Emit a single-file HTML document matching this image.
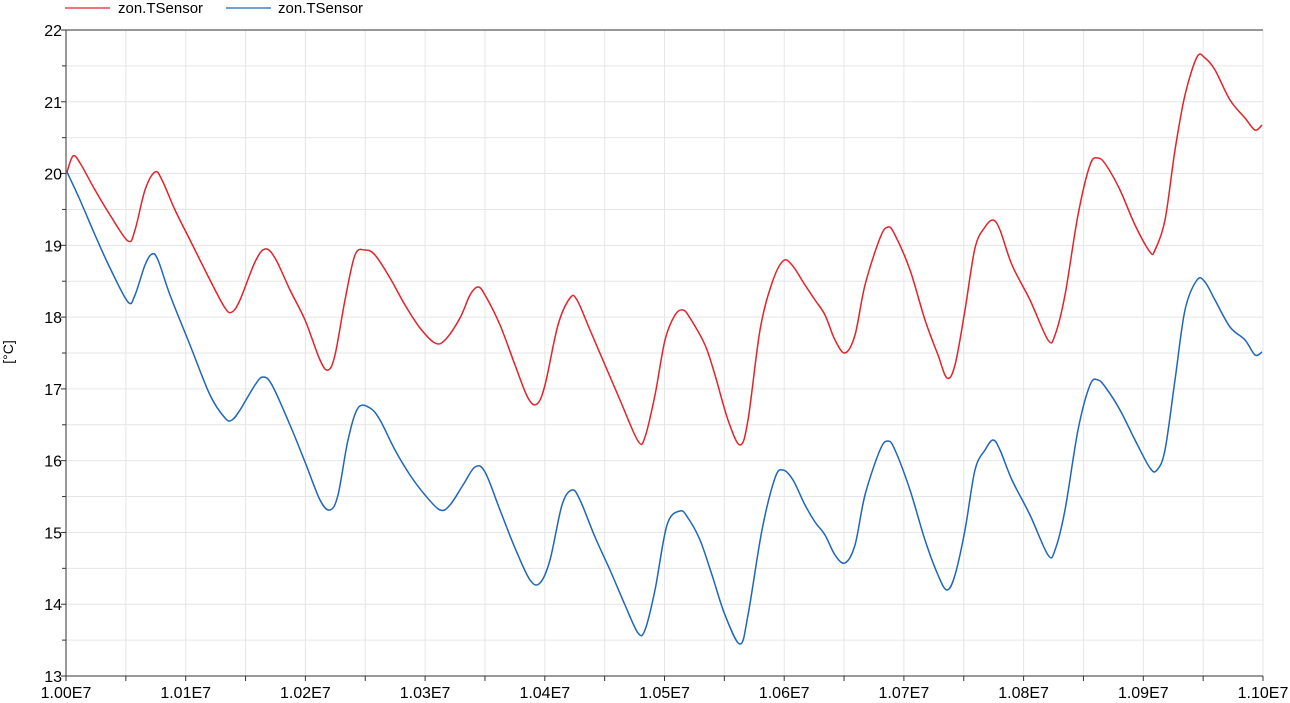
<!DOCTYPE html>
<html><head><meta charset="utf-8"><style>
html,body{margin:0;padding:0;background:#fff;}
svg{display:block;font-family:"Liberation Sans",Arial,sans-serif;}
</style></head><body>
<svg id="s" width="1290" height="703" viewBox="0 0 1290 703" xmlns="http://www.w3.org/2000/svg">
<g id="grid" stroke="#e6e6e6" stroke-width="1"></g>
<g id="axes" stroke="#333" stroke-width="1" fill="none"></g>
<g id="labels" font-size="16" fill="#000"></g>
<line x1="65" y1="8" x2="110" y2="8" stroke="#e3222a" stroke-width="1.2"/>
<text x="118" y="13" font-size="15">zon.TSensor</text>
<line x1="226" y1="8" x2="271" y2="8" stroke="#1f66b8" stroke-width="1.2"/>
<text x="278" y="13" font-size="15">zon.TSensor</text>
<text transform="translate(13,352) rotate(-90)" text-anchor="middle" font-size="14">[°C]</text>
<path id="red" fill="none" stroke="#e3222a" stroke-width="1.5"/>
<path id="blue" fill="none" stroke="#1f66b8" stroke-width="1.5"/>
</svg>
<script>
var L=66,R=1263,T=30,B=676,NS="http://www.w3.org/2000/svg";
function el(p,n,a){var e=document.createElementNS(NS,n);for(var k in a)e.setAttribute(k,a[k]);document.getElementById(p).appendChild(e);return e;}
for(var i=0;i<=18;i++){var y=T+(B-T)*i/18;el("grid","line",{x1:L,x2:R,y1:y,y2:y});
 el("axes","line",{x1:L-(i%2?4:5),x2:L,y1:y,y2:y});
 if(i%2==0){var t=el("labels","text",{x:L-4,y:y+6,"text-anchor":"end"});t.textContent=22-i/2;}}
for(var i=0;i<=20;i++){var x=L+(R-L)*i/20;el("grid","line",{x1:x,x2:x,y1:T,y2:B});
 el("axes","line",{x1:x,x2:x,y1:B,y2:B+5});
 if(i%2==0){var t=el("labels","text",{x:x,y:B+22,"text-anchor":"middle"});t.textContent=(1+i/200).toFixed(2)+"E7";}}
el("axes","line",{x1:L,x2:R,y1:T,y2:T});el("axes","line",{x1:L,x2:L,y1:T,y2:B});el("axes","line",{x1:L,x2:R,y1:B,y2:B});
function path(p){var d="M"+p[0][0]+","+p[0][1];for(var i=0;i<p.length-1;i++){var a=p[i-1]||p[i],b=p[i],c=p[i+1],e=p[i+2]||c;
d+=" C"+(b[0]+(c[0]-a[0])/6)+","+(b[1]+(c[1]-a[1])/6)+" "+(c[0]-(e[0]-b[0])/6)+","+(c[1]-(e[1]-b[1])/6)+" "+c[0]+","+c[1];}return d;}
var red=[[67,172],[73,156],[80,163],[95,190],[110,215],[128,241],[135,230],[145,190],[155,172],[162,180],[175,210],[190,240],[210,280],[225,308],[232,312],[240,300],[255,262],[265,249],[275,258],[290,290],[305,320],[320,360],[328,370],[335,355],[345,300],[355,255],[365,250],[375,255],[390,278],[405,305],[420,328],[435,343],[445,340],[460,318],[470,295],[478,287],[485,295],[500,325],[515,365],[528,398],[537,404],[545,385],[558,325],[570,298],[577,300],[590,330],[605,365],[620,400],[638,441],[645,437],[655,395],[665,340],[675,315],[683,310],[690,318],[705,345],[715,375],[728,420],[740,445],[748,420],[760,330],[772,283],[783,261],[792,265],[805,285],[815,300],[825,315],[835,340],[845,353],[855,335],[865,285],[880,238],[888,227],[895,235],[910,270],[925,320],[938,355],[947,378],[955,365],[965,310],[975,248],[985,227],[993,220],[1000,230],[1012,265],[1030,300],[1048,340],[1055,335],[1065,295],[1078,215],[1090,165],[1098,158],[1106,165],[1120,190],[1135,225],[1150,252],[1155,250],[1165,220],[1175,150],[1185,95],[1197,57],[1205,58],[1215,70],[1230,100],[1245,118],[1255,130],[1262,125]];
var blue=[[67,172],[80,200],[95,235],[110,268],[128,302],[135,295],[145,265],[152,254],[158,260],[170,295],[190,345],[210,395],[225,418],[232,420],[240,410],[255,385],[263,377],[272,385],[290,425],[305,462],[320,500],[330,510],[338,495],[348,440],[358,408],[370,408],[380,420],[395,450],[410,475],[425,495],[440,510],[450,505],[463,485],[475,467],[485,472],[500,510],[515,548],[530,580],[540,583],[550,560],[562,505],[572,490],[580,500],[595,537],[610,570],[625,605],[638,633],[645,630],[655,590],[667,525],[680,511],[688,518],[700,540],[712,575],[725,615],[740,644],[748,615],[762,530],[775,478],[783,470],[793,480],[805,505],[815,522],[825,535],[835,555],[845,563],[855,545],[865,495],[880,450],[888,441],[895,450],[910,490],[925,540],[938,575],[947,590],[955,575],[965,530],[975,470],[985,450],[993,440],[1000,450],[1012,480],[1030,515],[1048,555],[1055,550],[1065,510],[1078,430],[1090,385],[1098,380],[1106,388],[1120,410],[1135,440],[1150,468],[1157,470],[1165,450],[1175,380],[1185,310],[1197,280],[1205,282],[1215,300],[1230,327],[1245,340],[1255,355],[1262,352]];
document.getElementById("red").setAttribute("d",path(red));
document.getElementById("blue").setAttribute("d",path(blue));
</script>
</body></html>
